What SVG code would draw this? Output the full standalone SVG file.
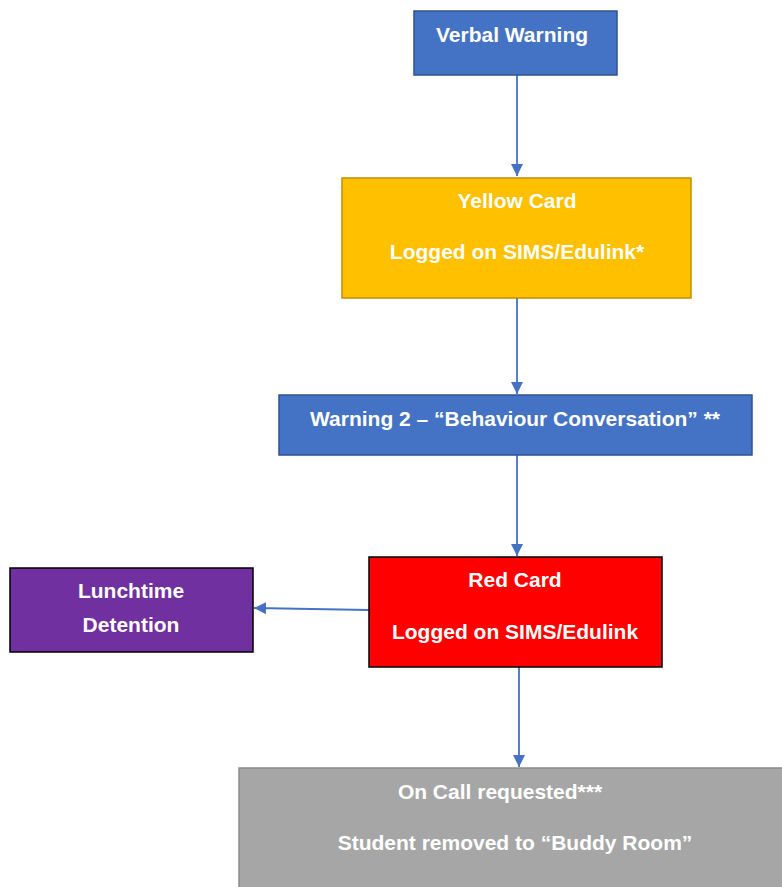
<svg xmlns="http://www.w3.org/2000/svg" width="782" height="887" viewBox="0 0 782 887">
<defs>
<marker id="ah" markerUnits="userSpaceOnUse" markerWidth="12" markerHeight="12" refX="10" refY="5" orient="auto" viewBox="0 0 10 10">
<path d="M0,0 L10,5 L0,10 z" fill="#4472C4"/>
</marker>
<style>
.t{font-family:"Liberation Sans",Arial,sans-serif;font-weight:bold;font-size:21px;fill:#FFFFFF;text-anchor:middle}
.c{stroke:#4472C4;stroke-width:1.8;fill:none;marker-end:url(#ah)}
.blue{fill:#4472C4;stroke:#2F528F;stroke-width:1.5}
</style>
</defs>
<rect width="782" height="887" fill="#FFFFFF"/>
<g id="connectors">
<line class="c" x1="517" y1="75" x2="517" y2="176"/>
<line class="c" x1="517" y1="298" x2="517" y2="394"/>
<line class="c" x1="517" y1="455" x2="517" y2="556"/>
<line class="c" x1="369" y1="610" x2="254" y2="608"/>
<line class="c" x1="519" y1="667" x2="519" y2="767"/>
</g>
<g id="verbal-warning">
<rect class="blue" x="414" y="11" width="203" height="64"/>
<text class="t" x="512" y="42">Verbal Warning</text>
</g>
<g id="yellow-card">
<rect x="342" y="178" width="349" height="120" fill="#FFC000" stroke="#BF9000" stroke-width="1.5"/>
<text class="t" x="517" y="208">Yellow Card</text>
<text class="t" x="517" y="259">Logged on SIMS/Edulink*</text>
</g>
<g id="warning-2">
<rect class="blue" x="279" y="395" width="473" height="60"/>
<text class="t" x="515" y="426">Warning 2 – “Behaviour Conversation” **</text>
</g>
<g id="red-card">
<rect x="369" y="557" width="293" height="110" fill="#FF0000" stroke="#000000" stroke-width="1.5"/>
<text class="t" x="515" y="587">Red Card</text>
<text class="t" x="515" y="639">Logged on SIMS/Edulink</text>
</g>
<g id="lunchtime-detention">
<rect x="10" y="568" width="243" height="84" fill="#7030A0" stroke="#000000" stroke-width="1.5"/>
<text class="t" x="131" y="598">Lunchtime</text>
<text class="t" x="131" y="632">Detention</text>
</g>
<g id="on-call">
<rect x="239" y="768" width="550" height="125" fill="#A6A6A6" stroke="#8C8C8C" stroke-width="1.5"/>
<text class="t" x="500" y="799">On Call requested***</text>
<text class="t" x="515" y="850">Student removed to “Buddy Room”</text>
</g>
</svg>
